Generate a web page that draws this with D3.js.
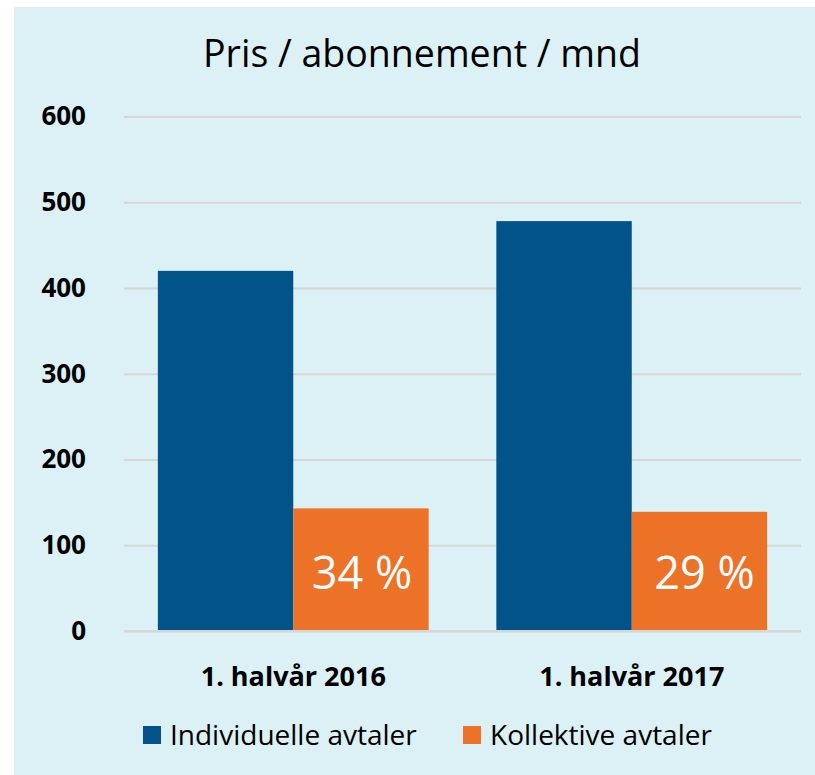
<!DOCTYPE html>
<html>
<head>
<meta charset="utf-8">
<script src="https://cdn.jsdelivr.net/npm/d3@7"></script>
<style>
  html, body { margin: 0; padding: 0; background: #ffffff; }
  svg { display: block; }
</style>
</head>
<body>
<svg id="chart" width="815" height="775"></svg>
<script>
const categories = ["1. halvår 2016", "1. halvår 2017"];
const seriesNames = ["Individuelle avtaler", "Kollektive avtaler"];
const individuelle = [420, 478];
const kollektive = [143, 139];
const shareLabels = ["34 %", "29 %"];
const yTicks = [0, 100, 200, 300, 400, 500, 600];
const colors = ["#02538A", "#EC7228"];

const svg = d3.select("#chart");
const font = "'Open Sans', 'Noto Sans', sans-serif";

// background panel
svg.append("rect").attr("x", 14).attr("y", 7).attr("width", 801).attr("height", 768).attr("fill", "#DBF1F6");

const plot = { left: 124, right: 801, top: 116.5, bottom: 631 };

const x = d3.scaleBand().domain(categories).range([plot.left, plot.right]).paddingInner(0.2).paddingOuter(0.1);
const xs = d3.scaleBand().domain(seriesNames).range([0, x.bandwidth()]);
const y = d3.scaleLinear().domain([0, 600]).range([plot.bottom, plot.top]);

// title
svg.append("text").attr("x", 422).attr("y", 67).attr("text-anchor", "middle")
  .attr("font-family", font).attr("font-size", 37.5).attr("fill", "#000").text("Pris / abonnement / mnd");

// gridlines + y axis
const yAxis = d3.axisLeft(y).tickValues(yTicks).tickSize(-(plot.right - plot.left)).tickPadding(38).tickFormat(d3.format("d"));
const gy = svg.append("g").attr("transform", `translate(${plot.left},0)`).call(yAxis);
gy.select(".domain").remove();
gy.selectAll(".tick line").attr("stroke", "#D6D6D6").attr("stroke-width", 2);
gy.selectAll(".tick text").attr("font-family", font).attr("font-size", 26).attr("font-weight", "bold").attr("fill", "#000");

// bars
const data = categories.map((c, i) => ({ cat: c, vals: [individuelle[i], kollektive[i]], label: shareLabels[i] }));
const groups = svg.append("g").selectAll("g").data(data).join("g")
  .attr("transform", d => `translate(${x(d.cat)},0)`);

groups.selectAll("rect").data(d => d.vals.map((v, j) => ({ v, s: seriesNames[j], j }))).join("rect")
  .attr("x", d => xs(d.s)).attr("width", xs.bandwidth())
  .attr("y", d => y(d.v)).attr("height", d => y(0) - y(d.v))
  .attr("fill", d => colors[d.j]);

groups.append("text")
  .attr("x", (d, i) => xs(seriesNames[1]) + xs.bandwidth() / 2 + (i === 0 ? 1 : 5))
  .attr("y", 589)
  .attr("text-anchor", "middle")
  .attr("font-family", font).attr("font-size", 45).attr("fill", "#fff")
  .text(d => d.label);

// x axis line on top of bars
svg.append("line").attr("x1", plot.left).attr("x2", plot.right).attr("y1", y(0)).attr("y2", y(0))
  .attr("stroke", "#D6D6D6").attr("stroke-width", 2);

// x axis labels
const xAxis = d3.axisBottom(x).tickSize(0).tickPadding(36);
const gx = svg.append("g").attr("transform", `translate(0,${plot.bottom})`).call(xAxis);
gx.select(".domain").remove();
gx.selectAll(".tick text").attr("font-family", font).attr("font-size", 27).attr("font-weight", "bold").attr("fill", "#000");

// legend
const legendX = [143, 463];
const lg = svg.append("g").selectAll("g").data(seriesNames).join("g")
  .attr("transform", (d, i) => `translate(${legendX[i]},726)`);
lg.append("rect").attr("width", 18).attr("height", 18).attr("fill", (d, i) => colors[i]);
lg.append("text").attr("x", 27).attr("y", 19)
  .attr("font-family", font).attr("font-size", 28).attr("fill", "#000").text(d => d);
</script>
</body>
</html>
